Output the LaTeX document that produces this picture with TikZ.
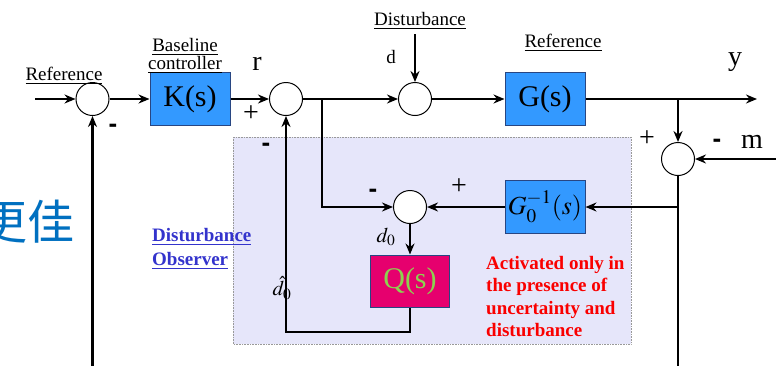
\documentclass[tikz,border=0pt]{standalone}
\usepackage{mathptmx}
\usepackage{fontspec}
\setmainfont{Liberation Serif}
\newfontfamily\cjk{Noto Sans CJK SC}
\newfontfamily\dashfont{Liberation Sans}
\usetikzlibrary{arrows.meta}
\definecolor{boxblue}{RGB}{51,153,255}
\definecolor{boxedge}{RGB}{40,70,130}
\definecolor{qfill}{RGB}{230,0,110}
\definecolor{qtext}{RGB}{140,210,80}
\definecolor{obsfill}{RGB}{230,230,250}
\definecolor{obsblue}{RGB}{51,51,204}
\definecolor{actred}{RGB}{250,0,0}
\definecolor{cjkblue}{RGB}{0,112,192}

\begin{document}
\begin{tikzpicture}[x=1pt,y=-1pt,>={Stealth[length=11pt,width=9pt]},
  sig/.style={line width=2.9pt,->},
  wire/.style={line width=2.9pt},
  sumnode/.style={circle,draw,line width=1pt,fill=white,minimum size=33pt,inner sep=0},
  blockbox/.style={draw=boxedge,line width=1pt,fill=boxblue,minimum width=80pt,minimum height=53pt,inner sep=0,font=\fontsize{30}{30}\selectfont},
  lbl/.style={inner sep=0,font=\fontsize{19}{16}\selectfont},
  sgn/.style={inner sep=0,font=\fontsize{28}{28}\selectfont},
  sgnm/.style={inner sep=0,font=\dashfont\bfseries\fontsize{26}{26}\selectfont},
  bigl/.style={inner sep=0,font=\fontsize{28}{28}\selectfont}]

\useasboundingbox (0,0) rectangle (776,365);
\clip (0,0) rectangle (776,365);

% observer area
\draw[draw=gray!80,densely dotted,line width=0.6pt,fill=obsfill] (233,137) rectangle (631,344);
\node[anchor=base west,inner sep=0,text=cjkblue,font=\cjk\fontsize{47}{47}\selectfont] (cjkL) at (-20,239) {更佳};

% blocks
\node[sumnode] (sumA) at (92.5,99) {};
\node[blockbox] (K) at (190,99) {K(s)};
\node[sumnode] (sumB) at (286,99) {};
\node[sumnode] (sumC) at (415,99) {};
\node[blockbox] (G) at (545,99) {G(s)};
\node[sumnode] (sumD) at (678,159) {};
\node[blockbox,font=\fontsize{26}{26}\selectfont] (Ginv) at (545,207) {$G_0^{-1}(s)$};
\node[sumnode] (sumE) at (410,207) {};
\node[blockbox,fill=qfill,text=qtext,minimum width=79pt,minimum height=52pt] (Q) at (410,281) {Q(s)};

\coordinate (inA) at (35,99);
\coordinate (fbL) at (92.5,370);
\coordinate (yEnd) at (757,99);
\coordinate (brY) at (678,99);
\coordinate (mIn) at (780,159);
\coordinate (fbR) at (678,370);
\coordinate (tapR) at (678,207);
\coordinate (tapB) at (322,99);
\coordinate (dIn) at (415,34);
\coordinate (dhat) at (286,332);

% signals
\draw[sig] (inA) -- (sumA);
\draw[sig] (sumA) -- (K);
\draw[sig] (K) -- (sumB);
\draw[sig] (sumB) -- (sumC);
\draw[sig] (sumC) -- (G);
\draw[sig] (G) -- (yEnd);
\draw[sig] (dIn) -- (sumC);
\draw[sig] (brY) -- (sumD);
\draw[sig] (mIn) -- (sumD);
\draw[wire] (sumD) -- (fbR);
\draw[sig] (tapR) -- (Ginv);
\draw[sig] (Ginv) -- (sumE);
\draw[sig] (tapB) |- (sumE);
\draw[sig] (sumE) -- (Q);
\draw[sig] (Q) |- (dhat) -- (sumB);
\draw[sig] (fbL) -- (sumA);

% labels
\node[lbl] (refL) at (64,76) {\underline{Reference}};
\node[lbl,align=center] (baseL) at (185,56) {\underline{Baseline}\\\underline{controller}};
\node[bigl] (rL) at (257,64) {r};
\node[sgn] (pB) at (251,114) {+};
\node[sgnm] (mA) at (113,128) {-};
\node[sgnm] (mB) at (266,147) {-};
\node[lbl] (distL) at (420,21) {\underline{Disturbance}};
\node[lbl] (dL) at (391,57) {d};
\node[lbl] (refG) at (563,43) {\underline{Reference}};
\node[bigl] (yL) at (735,62) {y};
\node[sgn] (pD) at (647,139) {+};
\node[sgnm] (mD) at (717,143) {-};
\node[bigl] (mL) at (752,142) {m};
\node[sgnm] (mE) at (373,193) {-};
\node[sgn] (pE) at (459,187) {+};
\node[lbl,font=\fontsize{21}{21}\selectfont] (d0L) at (386,237) {$d_0$};
\node[lbl,font=\fontsize{21}{21}\selectfont] (dhL) at (282,288) {$\hat{d}_0$};
\node[lbl,text=obsblue,font=\bfseries\fontsize{19}{24}\selectfont,align=left,anchor=west] (obsL) at (152,249) {\underline{Disturbance}\\\underline{Observer}};
\node[lbl,text=actred,font=\bfseries\fontsize{19}{22.5}\selectfont,align=left,anchor=north west] (actL) at (486,256) {Activated only in\\the presence of\\uncertainty and\\disturbance};
\end{tikzpicture}
\end{document}
